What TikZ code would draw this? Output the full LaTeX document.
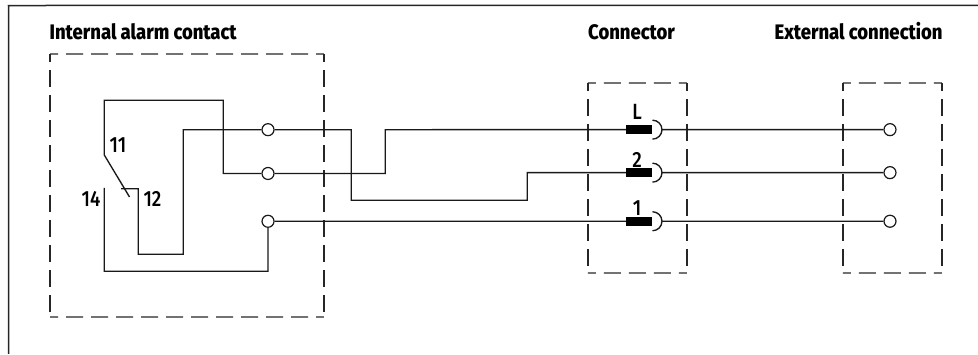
\documentclass[tikz,border=0pt]{standalone}
\usepackage{fontspec}
\setmainfont{Fira Sans}
\newfontfamily\headfont[FakeStretch=0.88]{Fira Sans ExtraBold}
\newfontfamily\numfont[FakeStretch=0.85]{Fira Sans Medium}
\tikzset{
  x=1pt,y=-1pt,
  wire/.style={line width=1.35pt,black!90,line join=miter},
  frameline/.style={line width=1.5pt,black!85},
  dashside/.style={line width=1.3pt,black!85,dash pattern=on 17pt off 8pt,dash phase=9pt},
  boxarea/.style={rectangle,inner sep=0pt,outer sep=0pt,anchor=north west},
  term/.style={circle,draw=black!90,line width=1.2pt,fill=white,inner sep=0pt,minimum size=12pt},
  plug/.style={rectangle,fill=black,inner sep=0pt,minimum width=26pt,minimum height=8.5pt},
  head/.style={font=\headfont\fontsize{21}{22}\selectfont,inner sep=0pt,anchor=base west},
  num/.style={font=\numfont\fontsize{22}{22}\selectfont,inner sep=0pt,anchor=base},
}
\newcommand{\dashedarea}[5]{%
  \node[boxarea,minimum width=#4pt,minimum height=#5pt] (#1) at (#2,#3) {};
  \draw[dashside] (#1.north west) -- (#1.north east);
  \draw[dashside] (#1.north west) -- (#1.south west);
  \draw[dashside] (#1.south west) -- (#1.south east);
  \draw[dashside] (#1.north east) -- (#1.south east);
}
\newcommand{\plugset}[3]{%
  \node[plug] (p#1) at (639,#2) {};
  \coordinate (c#1) at (652.5,#2);
  \draw[wire] ([shift={(0,-9.5)}]c#1) arc[start angle=90,end angle=-90,x radius=9.5pt,y radius=9.5pt];
  \coordinate (o#1) at (662,#2);
  \node[term] (e#1) at (890,#2) {};
  \draw[wire] (o#1) -- (e#1);
  \node[num] (l#1) at (637,#3) {#1};
}
\begin{document}
\begin{tikzpicture}
\useasboundingbox (0,0) rectangle (978,354);
\begin{scope}[rotate=0.004]
% frame
\coordinate (fa) at (8.5,354);
\coordinate (fb) at (8.5,5.5);
\coordinate (fc) at (978,5.5);
\draw[frameline] (fa) -- (fb) -- (fc);
% headings
\node[head] (h1) at (49.5,40) {Internal alarm contact};
\node[head] (h2) at (588,40) {Connector};
\node[head] (h3) at (774.5,40) {External connection};
% dashed areas
\dashedarea{bi}{50}{54}{274}{263}
\dashedarea{bc}{588}{83}{99}{190}
\dashedarea{be}{843}{83}{99}{190}
% plugs
\plugset{L}{129.7}{120}
\plugset{2}{172.7}{167.5}
\plugset{1}{221.3}{215.5}
% terminals
\node[term] (ta) at (268,129.7) {};
\node[term] (tb) at (268,173.5) {};
\node[term] (tc) at (268,221.3) {};
% internal contact
\coordinate (k1) at (104.3,155);
\coordinate (k2) at (129.5,197);
\coordinate (k3) at (121,188.7);
\coordinate (k4) at (104.3,188);
\draw[wire] (tb) -| (223.3,100.3) -- (104.3,100.3) -- (k1) -- (k2);
\draw[wire] (ta) -| (183.3,254.3) -- (138.3,254.3) -- (138.3,188.7) -- (k3);
\draw[wire] (k4) -- (104.3,271.3) -| (tc);
% external wiring
\draw[wire] (ta) -| (351.3,200.3) -- (527.3,200.3) |- (p2);
\draw[wire] (tb) -| (385.3,129.7) -- (pL);
\draw[wire] (tc) -- (p1);
% contact labels
\node[num] (n11) at (118,152.5) {11};
\node[num] (n14) at (91,207) {14};
\node[num] (n12) at (152.5,207) {12};
\end{scope}
\end{tikzpicture}
\end{document}
